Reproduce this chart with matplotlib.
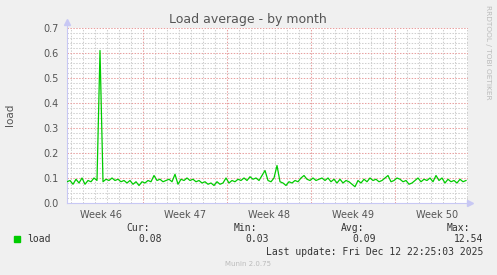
import matplotlib
matplotlib.use("Agg")
import matplotlib.pyplot as plt
import numpy as np

# ---- data ----
load = [0.085, 0.09, 0.075, 0.095, 0.08, 0.1, 0.075, 0.09, 0.085, 0.1, 0.09,
        0.61,
        0.085, 0.095, 0.09, 0.1, 0.09, 0.095, 0.085, 0.09, 0.08, 0.09, 0.075, 0.085, 0.07, 0.085,
        0.08, 0.09, 0.085, 0.11, 0.09, 0.095, 0.085, 0.09, 0.095, 0.085, 0.115, 0.075, 0.095,
        0.09, 0.1, 0.09, 0.095, 0.085, 0.09, 0.08, 0.085, 0.075, 0.08, 0.07, 0.085, 0.075,
        0.08, 0.1, 0.08, 0.09, 0.085, 0.095, 0.09, 0.1, 0.09, 0.105, 0.095, 0.1, 0.09, 0.11,
        0.13, 0.09, 0.085, 0.1, 0.15, 0.085, 0.08, 0.07, 0.085, 0.08, 0.09, 0.085, 0.1, 0.11,
        0.095, 0.09, 0.1, 0.09, 0.095, 0.1, 0.09, 0.1, 0.085, 0.095, 0.08, 0.095, 0.08, 0.09,
        0.085, 0.075, 0.065, 0.09, 0.08, 0.095, 0.085, 0.1, 0.09, 0.095, 0.085, 0.09, 0.1,
        0.11, 0.085, 0.09, 0.1, 0.095, 0.085, 0.09, 0.075, 0.08, 0.09, 0.1, 0.085, 0.095,
        0.09, 0.1, 0.085, 0.11, 0.09, 0.1, 0.08, 0.095, 0.085, 0.09, 0.08, 0.095, 0.085, 0.09]
sample_step_days = 0.25
week_labels = ["Week 46", "Week 47", "Week 48", "Week 49", "Week 50"]
week_starts = [6.3, 13.3, 20.3, 27.3]          # day offsets of week boundaries
y_ticks = [0.0, 0.1, 0.2, 0.3, 0.4, 0.5, 0.6, 0.7]
stats_names = ["Cur:", "Min:", "Avg:", "Max:"]
stats_values = ["0.08", "0.03", "0.09", "12.54"]
series_name = "load"
last_update = "Last update: Fri Dec 12 22:25:03 2025"

W, H = 497, 275
days = np.arange(len(load)) * sample_step_days
xmax = 401 / 12.0

BG = "#F0F0F0"
GREEN = "#00CC00"
AXC = "#C8C8F4"
TXT = "#555555"

fig = plt.figure(figsize=(W / 100, H / 100), dpi=100, facecolor=BG)
ax = fig.add_axes([67 / W, 1 - 203 / H, 401 / W, 175 / H])
ax.set_facecolor("white")
ax.set_xlim(0, xmax)
ax.set_ylim(0, 0.7)

# grid
dot = (0, (1.4, 1.4))
for d in np.arange(0.3, xmax, 1.0):
    if not any(abs(d - w) < 0.05 for w in week_starts):
        ax.axvline(d, color="#CFCFCF", lw=0.75, ls=dot, zorder=1)
for v in np.arange(0.02, 0.7, 0.02):
    if abs(v * 10 - round(v * 10)) > 1e-6:
        ax.axhline(v, color="#CFCFCF", lw=0.75, ls=dot, zorder=1)
for w in week_starts:
    ax.axvline(w, color="#E8A0A0", lw=0.75, ls=dot, zorder=2)
for v in y_ticks[1:]:
    ax.axhline(v, color="#E8A0A0", lw=0.75, ls=dot, zorder=2)

ax.plot(days, load, color=GREEN, lw=0.9, zorder=5)

# axes / spines
for s in ["top", "right"]:
    ax.spines[s].set_visible(False)
ax.spines["left"].set_color(AXC)
ax.spines["bottom"].set_color(AXC)
ax.spines["left"].set_linewidth(0.8)
ax.spines["bottom"].set_linewidth(0.8)
ax.spines["left"].set_bounds(0, 0.7 + 0.02)
ax.plot([0], [1.035], marker="^", ms=4, color=AXC, transform=ax.transAxes, clip_on=False)
ax.plot([1.005], [0], marker=">", ms=4, color=AXC, transform=ax.transAxes, clip_on=False)

ax.set_yticks(y_ticks)
ax.set_yticklabels([f"{v:.1f}" for v in y_ticks], color=TXT, fontsize=7)
ax.tick_params(axis="y", length=0, pad=6)
centers = [week_starts[0] - 3.5] + [w + 3.5 for w in week_starts]
ax.set_xticks(centers)
ax.set_xticklabels(week_labels, color=TXT, fontsize=7)
ax.tick_params(axis="x", length=0, pad=5)

def fx(x):
    return x / W

def fy(y):
    return 1 - y / H

fig.text(fx(248), fy(19), "Load average - by month", ha="center", va="center",
         color=TXT, fontsize=9)
fig.text(fx(10), fy(115), "load", rotation=90, ha="center", va="center",
         color=TXT, fontsize=7.5)
fig.text(fx(488), fy(52), "RRDTOOL / TOBI OETIKER", rotation=270, ha="center",
         va="center", color="#BBBBBB", fontsize=5.3)

# legend
fig.patches.append(plt.Rectangle((fx(14), fy(242)), 6 / W, 6 / H, transform=fig.transFigure,
                                 color=GREEN))
mono = "DejaVu Sans Mono"
fig.text(fx(27), fy(239), series_name, ha="left", va="center", family=mono,
         fontsize=7, color="#333333")
name_right = [150, 257, 364, 470]
val_right = [162, 269, 376, 483]
for n, v, xn, xv in zip(stats_names, stats_values, name_right, val_right):
    fig.text(fx(xn), fy(228), n, ha="right", va="center", family=mono,
             fontsize=7, color="#333333")
    fig.text(fx(xv), fy(239), v, ha="right", va="center", family=mono,
             fontsize=7, color="#333333")
fig.text(fx(483), fy(252), last_update, ha="right", va="center", family=mono,
         fontsize=7, color="#333333")
fig.text(fx(248), fy(264), "Munin 2.0.75", ha="center", va="center",
         color="#BBBBBB", fontsize=5)

fig.savefig("out.png", dpi=100, facecolor=BG)
